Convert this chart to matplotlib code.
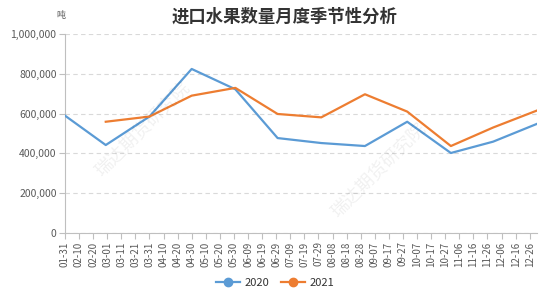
import matplotlib
matplotlib.use("Agg")
import matplotlib.pyplot as plt
import matplotlib.dates as mdates
import pandas as pd
from matplotlib.ticker import FuncFormatter, MultipleLocator

plt.rcParams['font.family'] = ['Noto Sans CJK SC', 'DejaVu Sans']

dates_2020 = ["01-31", "02-29", "03-31", "04-30", "05-31", "06-30",
              "07-31", "08-31", "09-30", "10-31", "11-30", "12-31"]
values_2020 = [590000, 442000, 585000, 824000, 722000, 477000,
               452000, 437000, 559000, 402000, 459000, 548000]

dates_2021 = ["02-29", "03-31", "04-30", "05-31", "06-30",
              "07-31", "08-31", "09-30", "10-31", "11-30", "12-31"]
values_2021 = [559000, 585000, 690000, 729000, 598000,
               581000, 697000, 610000, 437000, 530000, 615000]

title = "进口水果数量月度季节性分析"
unit = "吨"
series_names = ["2020", "2021"]
colors = ["#5b9bd5", "#ed7d31"]

x20 = pd.to_datetime(["2020-" + d for d in dates_2020])
x21 = pd.to_datetime(["2020-" + d for d in dates_2021])

fig = plt.figure(figsize=(5.5, 2.95), dpi=100)
ax = fig.add_axes([0.118, 0.21, 0.858, 0.675])

ax.plot(x20, values_2020, color=colors[0], lw=1.6, label=series_names[0],
        marker='o', markevery=[], zorder=3)
ax.plot(x21, values_2021, color=colors[1], lw=1.6, label=series_names[1],
        marker='o', markevery=[], zorder=3)

ticks = pd.date_range("2020-01-31", periods=34, freq="10D")
ax.set_xticks(ticks)
ax.xaxis.set_major_formatter(mdates.DateFormatter("%m-%d"))
ax.set_xlim(pd.Timestamp("2020-01-31"), pd.Timestamp("2020-12-31"))
for lbl in ax.get_xticklabels():
    lbl.set_rotation(90)
ax.tick_params(axis='x', labelsize=7, colors='#bfbfbf', labelcolor='#595959',
               length=4, width=0.8, pad=2)

ax.set_ylim(0, 1000000)
ax.yaxis.set_major_locator(MultipleLocator(200000))
ax.yaxis.set_major_formatter(FuncFormatter(lambda v, p: f"{int(v):,}"))
ax.tick_params(axis='y', labelsize=7.5, colors='#bfbfbf', labelcolor='#595959',
               length=4, width=0.8, pad=2)
ax.grid(axis='y', color='#d9d9d9', ls=(0, (4, 3)), lw=0.8)
ax.set_axisbelow(True)

for s in ['top', 'right']:
    ax.spines[s].set_visible(False)
ax.spines['left'].set_color('#bfbfbf')
ax.spines['bottom'].set_color('#bfbfbf')

fig.text(0.518, 0.945, title, ha='center', va='center', fontsize=12.5,
         fontweight='bold', color='#333333')
fig.text(0.11, 0.948, unit, ha='center', va='center', fontsize=6.5, color='#595959')

# watermarks
fig.text(0.26, 0.56, "瑞达期货研究院", rotation=45, ha='center', va='center',
         fontsize=13, color='#000000', alpha=0.06)
fig.text(0.69, 0.42, "瑞达期货研究院", rotation=45, ha='center', va='center',
         fontsize=13, color='#000000', alpha=0.06)

from matplotlib.lines import Line2D
handles = [Line2D([0], [0], color=c, lw=1.6, marker='o', markersize=6)
           for c in colors]
fig.legend(handles, series_names, loc='center', bbox_to_anchor=(0.5, 0.04),
           ncol=2, frameon=False, fontsize=8, handlelength=2.2,
           columnspacing=1.0, handletextpad=0.4, labelcolor='#333333')

fig.savefig("out.png", dpi=100)
